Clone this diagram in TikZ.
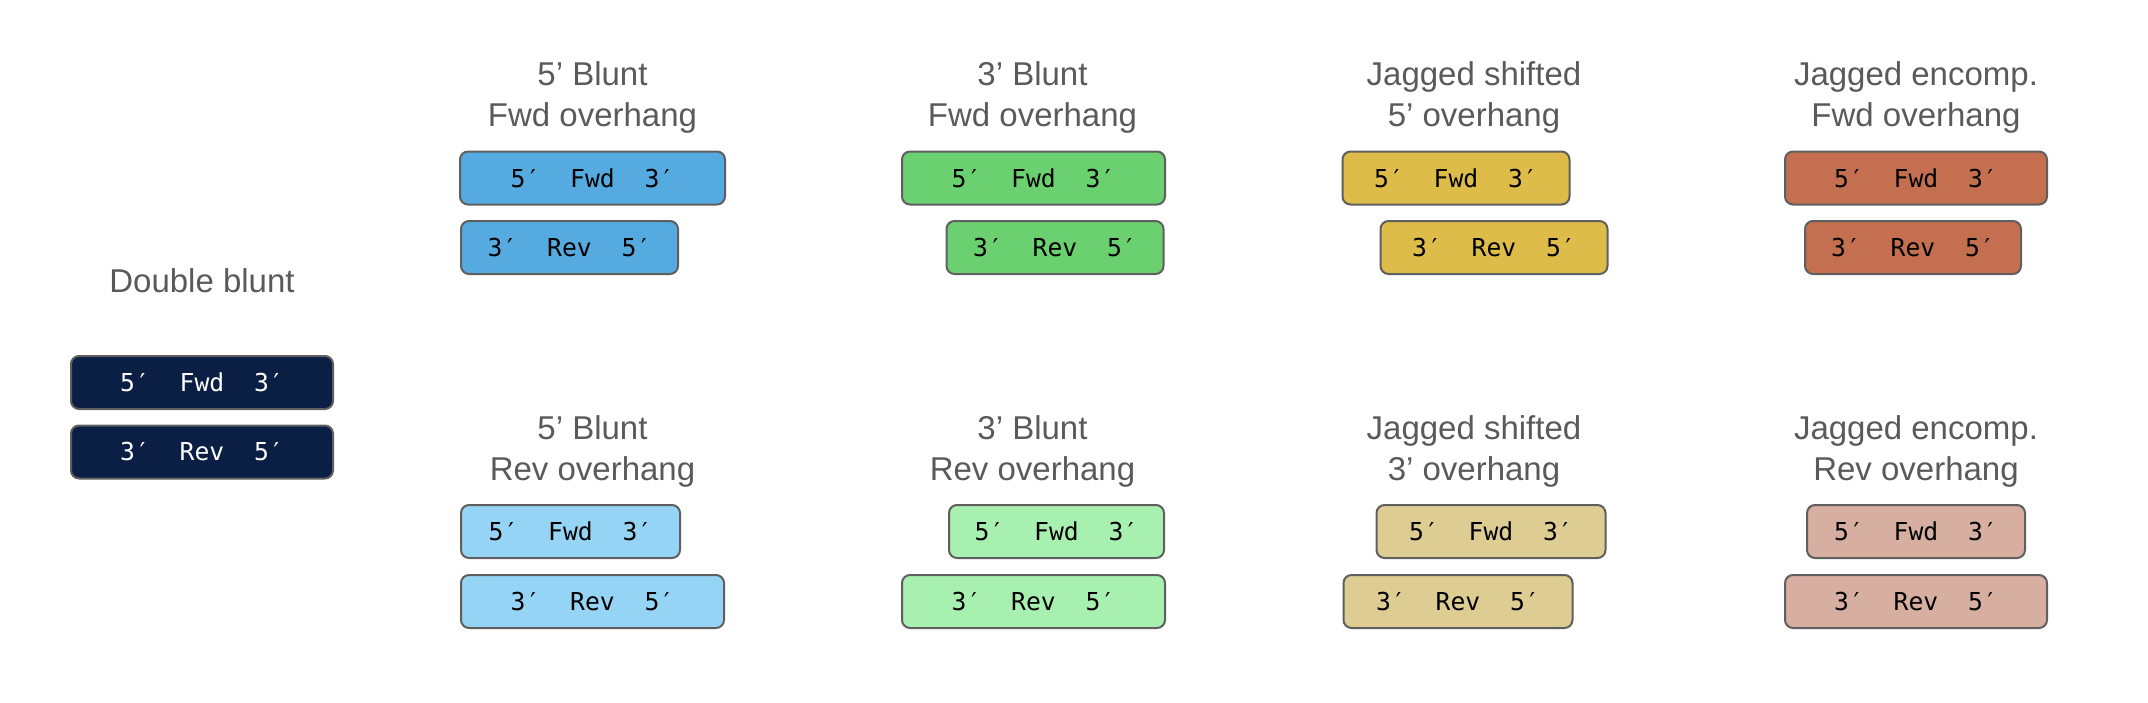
\documentclass[tikz,border=0pt]{standalone}
\usepackage{fontspec}
\setmainfont{Liberation Sans}
\newfontfamily\strandfont{DejaVu Sans Mono}
\definecolor{titlegray}{HTML}{5A5A5A}
\definecolor{edgegray}{HTML}{5F5F5F}
\definecolor{navy}{HTML}{0B1F44}
\definecolor{blueA}{HTML}{55AAE0}
\definecolor{blueB}{HTML}{95D4F5}
\definecolor{greenA}{HTML}{6BD06F}
\definecolor{greenB}{HTML}{A8F0B0}
\definecolor{yellowA}{HTML}{DDBC4A}
\definecolor{yellowB}{HTML}{DDCD93}
\definecolor{redA}{HTML}{C46F4F}
\definecolor{redB}{HTML}{D6AFA0}
\newcommand\fwdlabel{5′\hspace{1.204em}Fwd\hspace{1.204em}3′}
\newcommand\revlabel{3′\hspace{1.204em}Rev\hspace{1.204em}5′}
\tikzset{
  strand/.style={draw=edgegray, line width=2pt, rounded corners=8pt,
    minimum height=53pt, inner sep=0pt, text=black,
    font=\strandfont\fontsize{24.7}{28}\selectfont},
  title/.style={anchor=base, text=titlegray, inner sep=0pt,
    font=\fontsize{33}{40}\selectfont},
}
\begin{document}
\begin{tikzpicture}[x=1pt,y=-1pt]
\useasboundingbox (0,0) rectangle (2148,702);

% Double blunt
\node[title] (tdb) at (202,292) {Double blunt};
\node[strand, fill=navy, text=white, minimum width=262pt] (dbf) at (202,382.5) {\fwdlabel};
\node[strand, fill=navy, text=white, minimum width=262pt] (dbr) at (202,452) {\revlabel};

% Column 1 top
\node[title] (t1a) at (592.5,85) {5’ Blunt};
\node[title] (t1b) at (592.5,126) {Fwd overhang};
\node[strand, fill=blueA, minimum width=265pt] (c1tf) at (592.5,178) {\fwdlabel};
\node[strand, fill=blueA, minimum width=217pt] (c1tr) at (569.5,247.5) {\revlabel};
% Column 1 bottom
\node[title] (t1c) at (592.5,439) {5’ Blunt};
\node[title] (t1d) at (592.5,480) {Rev overhang};
\node[strand, fill=blueB, minimum width=219pt] (c1bf) at (570.5,531.5) {\fwdlabel};
\node[strand, fill=blueB, minimum width=263pt] (c1br) at (592.5,601.5) {\revlabel};

% Column 2 top
\node[title] (t2a) at (1032.5,85) {3’ Blunt};
\node[title] (t2b) at (1032.5,126) {Fwd overhang};
\node[strand, fill=greenA, minimum width=263pt] (c2tf) at (1033.5,178) {\fwdlabel};
\node[strand, fill=greenA, minimum width=217pt] (c2tr) at (1055,247.5) {\revlabel};
% Column 2 bottom
\node[title] (t2c) at (1032.5,439) {3’ Blunt};
\node[title] (t2d) at (1032.5,480) {Rev overhang};
\node[strand, fill=greenB, minimum width=215pt] (c2bf) at (1056.5,531.5) {\fwdlabel};
\node[strand, fill=greenB, minimum width=263pt] (c2br) at (1033.5,601.5) {\revlabel};

% Column 3 top
\node[title] (t3a) at (1474,85) {Jagged shifted};
\node[title] (t3b) at (1474,126) {5’ overhang};
\node[strand, fill=yellowA, minimum width=227pt] (c3tf) at (1456,178) {\fwdlabel};
\node[strand, fill=yellowA, minimum width=227pt] (c3tr) at (1494,247.5) {\revlabel};
% Column 3 bottom
\node[title] (t3c) at (1474,439) {Jagged shifted};
\node[title] (t3d) at (1474,480) {3’ overhang};
\node[strand, fill=yellowB, minimum width=229pt] (c3bf) at (1491,531.5) {\fwdlabel};
\node[strand, fill=yellowB, minimum width=229pt] (c3br) at (1458,601.5) {\revlabel};

% Column 4 top
\node[title] (t4a) at (1916,85) {Jagged encomp.};
\node[title] (t4b) at (1916,126) {Fwd overhang};
\node[strand, fill=redA, minimum width=262pt] (c4tf) at (1916,178) {\fwdlabel};
\node[strand, fill=redA, minimum width=216pt] (c4tr) at (1913,247.5) {\revlabel};
% Column 4 bottom
\node[title] (t4c) at (1916,439) {Jagged encomp.};
\node[title] (t4d) at (1916,480) {Rev overhang};
\node[strand, fill=redB, minimum width=218pt] (c4bf) at (1916,531.5) {\fwdlabel};
\node[strand, fill=redB, minimum width=262pt] (c4br) at (1916,601.5) {\revlabel};
\end{tikzpicture}
\end{document}
